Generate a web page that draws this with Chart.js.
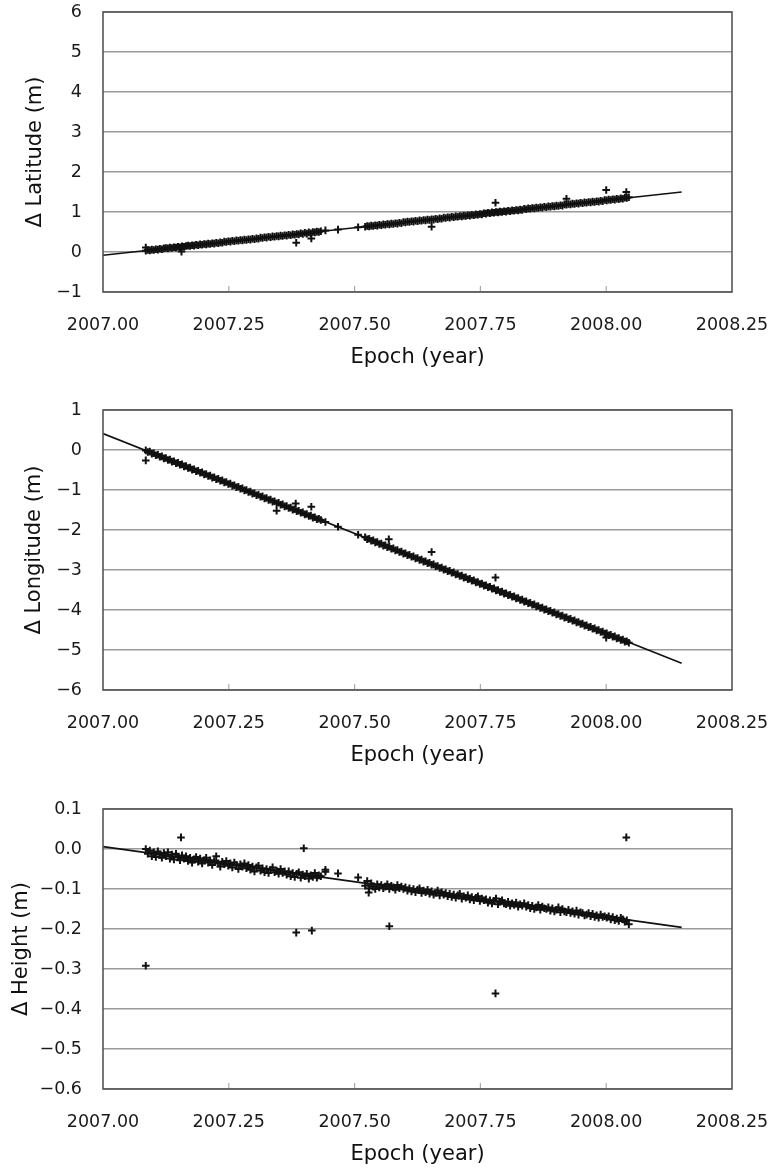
<!DOCTYPE html>
<html>
<head>
<meta charset="utf-8">
<script src="https://cdn.jsdelivr.net/npm/chart.js@4.4.1/dist/chart.umd.min.js"></script>
<style>
  body { margin: 0; background: #fff; }
  .bloc { position: absolute; left: 0; width: 769px; height: 372px; }
</style>
</head>
<body>
<div class="bloc" style="top:0px"><canvas id="graphique-lat"></canvas></div>
<div class="bloc" style="top:398px"><canvas id="graphique-lon"></canvas></div>
<div class="bloc" style="top:797px"><canvas id="graphique-hgt"></canvas></div>
<script>
// Epochs of the daily solutions (year)
const epochs = [
  2007.085, 2007.089, 2007.093, 2007.097, 2007.101, 2007.105, 2007.109, 2007.113, 2007.117, 2007.121,
  2007.125, 2007.129, 2007.133, 2007.137, 2007.141, 2007.145, 2007.149, 2007.153, 2007.157, 2007.161,
  2007.165, 2007.169, 2007.173, 2007.177, 2007.181, 2007.185, 2007.189, 2007.193, 2007.197, 2007.201,
  2007.205, 2007.209, 2007.213, 2007.217, 2007.221, 2007.225, 2007.229, 2007.233, 2007.237, 2007.241,
  2007.245, 2007.249, 2007.253, 2007.257, 2007.261, 2007.265, 2007.269, 2007.273, 2007.277, 2007.281,
  2007.285, 2007.289, 2007.293, 2007.297, 2007.301, 2007.305, 2007.309, 2007.313, 2007.317, 2007.321,
  2007.325, 2007.329, 2007.333, 2007.337, 2007.341, 2007.345, 2007.349, 2007.353, 2007.357, 2007.361,
  2007.365, 2007.369, 2007.373, 2007.377, 2007.381, 2007.385, 2007.389, 2007.393, 2007.397, 2007.401,
  2007.405, 2007.409, 2007.413, 2007.417, 2007.421, 2007.425, 2007.429, 2007.433,
  2007.442, 2007.467, 2007.507,
  2007.521, 2007.525, 2007.529, 2007.533, 2007.537, 2007.541, 2007.545, 2007.549, 2007.553, 2007.557,
  2007.561, 2007.565, 2007.569, 2007.573, 2007.577, 2007.581, 2007.585, 2007.589, 2007.593, 2007.597,
  2007.601, 2007.605, 2007.609, 2007.613, 2007.617, 2007.621, 2007.625, 2007.629, 2007.633, 2007.637,
  2007.641, 2007.645, 2007.649, 2007.653, 2007.657, 2007.661, 2007.665, 2007.669, 2007.673, 2007.677,
  2007.681, 2007.685, 2007.689, 2007.693, 2007.697, 2007.701, 2007.705, 2007.709, 2007.713, 2007.717,
  2007.721, 2007.725, 2007.729, 2007.733, 2007.737, 2007.741, 2007.745, 2007.749, 2007.753, 2007.757,
  2007.761, 2007.765, 2007.769, 2007.773, 2007.777, 2007.781, 2007.785, 2007.789, 2007.793, 2007.797,
  2007.801, 2007.805, 2007.809, 2007.813, 2007.817, 2007.821, 2007.825, 2007.829, 2007.833, 2007.837,
  2007.841, 2007.845, 2007.849, 2007.853, 2007.857, 2007.861, 2007.865, 2007.869, 2007.873, 2007.877,
  2007.881, 2007.885, 2007.889, 2007.893, 2007.897, 2007.901, 2007.905, 2007.909, 2007.913, 2007.917,
  2007.921, 2007.925, 2007.929, 2007.933, 2007.937, 2007.941, 2007.945, 2007.949, 2007.953, 2007.957,
  2007.961, 2007.965, 2007.969, 2007.973, 2007.977, 2007.981, 2007.985, 2007.989, 2007.993, 2007.997,
  2008.001, 2008.005, 2008.009, 2008.013, 2008.017, 2008.021, 2008.025, 2008.029, 2008.033, 2008.037,
  2008.041, 2008.045
];

// Delta latitude (m)
const latitude = [
  0.03, 0.05, 0.04, 0.06, 0.05, 0.07, 0.06, 0.08, 0.07, 0.09,
  0.10, 0.09, 0.11, 0.10, 0.12, 0.11, 0.13, 0.12, 0.14, 0.13,
  0.15, 0.16, 0.15, 0.17, 0.16, 0.18, 0.17, 0.19, 0.18, 0.20,
  0.19, 0.21, 0.20, 0.22, 0.21, 0.23, 0.22, 0.24, 0.23, 0.26,
  0.25, 0.27, 0.26, 0.28, 0.27, 0.29, 0.28, 0.30, 0.29, 0.31,
  0.30, 0.32, 0.31, 0.33, 0.32, 0.34, 0.33, 0.36, 0.35, 0.37,
  0.36, 0.38, 0.37, 0.39, 0.38, 0.40, 0.39, 0.41, 0.40, 0.42,
  0.41, 0.43, 0.42, 0.44, 0.43, 0.45, 0.44, 0.47, 0.45, 0.48,
  0.46, 0.49, 0.47, 0.50, 0.49, 0.51, 0.50, 0.52,
  0.54, 0.56, 0.62,
  0.63, 0.65, 0.64, 0.66, 0.65, 0.67, 0.66, 0.68, 0.67, 0.69,
  0.68, 0.70, 0.69, 0.71, 0.70, 0.72, 0.71, 0.73, 0.72, 0.75,
  0.74, 0.76, 0.75, 0.77, 0.76, 0.78, 0.77, 0.79, 0.78, 0.80,
  0.79, 0.81, 0.80, 0.82, 0.81, 0.83, 0.82, 0.84, 0.83, 0.86,
  0.85, 0.87, 0.86, 0.88, 0.87, 0.89, 0.88, 0.90, 0.89, 0.91,
  0.90, 0.92, 0.91, 0.93, 0.92, 0.94, 0.93, 0.95, 0.94, 0.97,
  0.96, 0.98, 0.97, 0.99, 0.98, 1.00, 0.99, 1.01, 1.00, 1.02,
  1.01, 1.03, 1.02, 1.04, 1.03, 1.05, 1.04, 1.06, 1.05, 1.08,
  1.07, 1.09, 1.08, 1.10, 1.09, 1.11, 1.10, 1.12, 1.11, 1.13,
  1.12, 1.14, 1.13, 1.15, 1.14, 1.16, 1.15, 1.17, 1.16, 1.19,
  1.18, 1.20, 1.19, 1.21, 1.20, 1.22, 1.21, 1.23, 1.22, 1.24,
  1.23, 1.25, 1.24, 1.26, 1.25, 1.27, 1.26, 1.28, 1.27, 1.30,
  1.29, 1.31, 1.30, 1.32, 1.31, 1.33, 1.32, 1.34, 1.33, 1.36,
  1.35, 1.37
];

// Delta longitude (m)
const longitude = [
  -0.01, -0.05, -0.04, -0.09, -0.08, -0.13, -0.12, -0.17, -0.16, -0.21,
  -0.20, -0.25, -0.24, -0.29, -0.28, -0.33, -0.32, -0.37, -0.36, -0.41,
  -0.40, -0.45, -0.44, -0.49, -0.48, -0.53, -0.52, -0.57, -0.56, -0.61,
  -0.60, -0.65, -0.64, -0.69, -0.68, -0.73, -0.72, -0.77, -0.76, -0.81,
  -0.80, -0.85, -0.84, -0.89, -0.88, -0.93, -0.92, -0.97, -0.96, -1.01,
  -1.00, -1.05, -1.04, -1.09, -1.08, -1.13, -1.12, -1.17, -1.16, -1.21,
  -1.20, -1.25, -1.24, -1.29, -1.28, -1.33, -1.32, -1.37, -1.36, -1.41,
  -1.40, -1.45, -1.44, -1.49, -1.48, -1.53, -1.52, -1.57, -1.56, -1.61,
  -1.60, -1.65, -1.64, -1.69, -1.68, -1.73, -1.72, -1.75,
  -1.80, -1.92, -2.12,
  -2.18, -2.23, -2.22, -2.27, -2.26, -2.31, -2.30, -2.35, -2.34, -2.39,
  -2.38, -2.43, -2.42, -2.47, -2.46, -2.51, -2.50, -2.55, -2.54, -2.59,
  -2.58, -2.63, -2.62, -2.67, -2.66, -2.71, -2.70, -2.75, -2.74, -2.79,
  -2.78, -2.83, -2.82, -2.87, -2.86, -2.91, -2.90, -2.95, -2.94, -2.99,
  -2.98, -3.03, -3.02, -3.07, -3.06, -3.11, -3.10, -3.15, -3.14, -3.19,
  -3.18, -3.23, -3.22, -3.27, -3.26, -3.31, -3.30, -3.35, -3.34, -3.39,
  -3.38, -3.43, -3.42, -3.47, -3.46, -3.51, -3.50, -3.55, -3.54, -3.59,
  -3.58, -3.63, -3.62, -3.67, -3.66, -3.71, -3.70, -3.75, -3.74, -3.79,
  -3.78, -3.83, -3.82, -3.87, -3.86, -3.91, -3.90, -3.95, -3.94, -3.99,
  -3.98, -4.03, -4.02, -4.07, -4.06, -4.11, -4.10, -4.15, -4.14, -4.19,
  -4.18, -4.23, -4.22, -4.27, -4.26, -4.31, -4.30, -4.35, -4.34, -4.39,
  -4.38, -4.43, -4.42, -4.47, -4.46, -4.51, -4.50, -4.55, -4.54, -4.59,
  -4.58, -4.63, -4.62, -4.67, -4.66, -4.71, -4.70, -4.75, -4.74, -4.79,
  -4.78, -4.82
];

// Delta height (m)
const height = [
  0.000, -0.012, -0.004, -0.018, -0.008, -0.020, -0.006, -0.014, -0.022, -0.010,
  -0.018, -0.008, -0.024, -0.014, -0.026, -0.012, -0.020, -0.028, -0.016, -0.024,
  -0.018, -0.030, -0.022, -0.034, -0.026, -0.020, -0.032, -0.024, -0.036, -0.028,
  -0.022, -0.034, -0.028, -0.040, -0.030, -0.018, -0.036, -0.044, -0.032, -0.038,
  -0.030, -0.042, -0.036, -0.046, -0.034, -0.040, -0.050, -0.038, -0.044, -0.036,
  -0.048, -0.040, -0.052, -0.044, -0.056, -0.046, -0.042, -0.054, -0.048, -0.058,
  -0.050, -0.060, -0.052, -0.046, -0.058, -0.054, -0.062, -0.050, -0.060, -0.056,
  -0.064, -0.056, -0.068, -0.060, -0.070, -0.062, -0.058, -0.072, -0.064, -0.068,
  -0.062, -0.074, -0.066, -0.070, -0.060, -0.072, -0.066, -0.068,
  -0.057, -0.061, -0.071,
  -0.092, -0.080, -0.098, -0.086, -0.094, -0.100, -0.088, -0.096, -0.090, -0.098,
  -0.094, -0.088, -0.100, -0.092, -0.096, -0.102, -0.090, -0.098, -0.094, -0.100,
  -0.096, -0.104, -0.098, -0.106, -0.100, -0.108, -0.102, -0.098, -0.110, -0.104,
  -0.108, -0.102, -0.112, -0.106, -0.114, -0.110, -0.104, -0.116, -0.108, -0.114,
  -0.110, -0.118, -0.112, -0.120, -0.114, -0.122, -0.116, -0.112, -0.124, -0.118,
  -0.122, -0.116, -0.126, -0.120, -0.128, -0.122, -0.118, -0.130, -0.124, -0.128,
  -0.126, -0.134, -0.128, -0.136, -0.130, -0.124, -0.138, -0.132, -0.128, -0.136,
  -0.138, -0.132, -0.142, -0.136, -0.140, -0.134, -0.144, -0.138, -0.142, -0.136,
  -0.144, -0.140, -0.148, -0.142, -0.150, -0.146, -0.140, -0.152, -0.144, -0.148,
  -0.150, -0.146, -0.154, -0.148, -0.156, -0.152, -0.146, -0.158, -0.150, -0.156,
  -0.158, -0.152, -0.160, -0.156, -0.162, -0.154, -0.164, -0.158, -0.160, -0.166,
  -0.164, -0.160, -0.168, -0.162, -0.170, -0.166, -0.172, -0.164, -0.170, -0.168,
  -0.172, -0.168, -0.176, -0.170, -0.178, -0.174, -0.180, -0.172, -0.176, -0.182,
  -0.178, -0.188
];

// Isolated solutions off the main trend
const latOutEpochs = [2007.085, 2007.156, 2007.384, 2007.414, 2007.653, 2007.780, 2007.921, 2008.000, 2008.040];
const latOut = [0.11, 0.01, 0.23, 0.34, 0.63, 1.23, 1.33, 1.55, 1.50];
const lonOutEpochs = [2007.085, 2007.345, 2007.383, 2007.414, 2007.568, 2007.653, 2007.780, 2008.000];
const lonOut = [-0.26, -1.52, -1.34, -1.42, -2.23, -2.55, -3.19, -4.69];
const hgtOutEpochs = [2007.085, 2007.155, 2007.384, 2007.399, 2007.415, 2007.442, 2007.528, 2007.569, 2007.780, 2008.040];
const hgtOut = [-0.292, 0.029, -0.209, 0.002, -0.204, -0.052, -0.109, -0.193, -0.361, 0.029];

// Linear trend (end points)
const fitEpochs = [2007.00, 2008.15];
const latFit = [-0.08, 1.50];
const lonFit = [0.41, -5.33];
const hgtFit = [0.006, -0.196];

// Tick labels
const xTicks = [2007.00, 2007.25, 2007.50, 2007.75, 2008.00, 2008.25];
const latTicks = [-1, 0, 1, 2, 3, 4, 5, 6];
const lonTicks = [-6, -5, -4, -3, -2, -1, 0, 1];
const hgtTicks = [-0.6, -0.5, -0.4, -0.3, -0.2, -0.1, 0.0, 0.1];

//--------------------------------------------------
// layout of the plot area inside each canvas
const PLOT_LEFT = 103;
const PLOT_RIGHT = 37;
const PLOT_TOP = 12;
const PLOT_BOTTOM = 292;
const CANVAS_H = 372;

Chart.defaults.font.family = "'DejaVu Sans', sans-serif";
Chart.defaults.color = "#1a1a1a";

function paires(xs, ys) {
  return xs.map((x, i) => ({x: x, y: ys[i]}));
}

function moins(txt) {
  return txt.replace("-", "\u2212");
}

// frame all round the plot + small inner ticks on the x axis
const cadre = {
  id: "cadre",
  afterDatasetsDraw(chart) {
    const ctx = chart.ctx;
    const a = chart.chartArea;
    const sx = chart.scales.x;
    ctx.save();
    ctx.strokeStyle = "#aaaaaa";
    ctx.lineWidth = 1.2;
    for (let i = 1; i < xTicks.length - 1; i++) {
      const px = sx.getPixelForValue(xTicks[i]);
      ctx.beginPath();
      ctx.moveTo(px, a.bottom);
      ctx.lineTo(px, a.bottom - 6);
      ctx.stroke();
    }
    ctx.strokeStyle = "#555555";
    ctx.lineWidth = 1.6;
    ctx.strokeRect(a.left, a.top, a.right - a.left, a.bottom - a.top);
    ctx.restore();
  }
};

function graphique(id, valeurs, outEp, outVal, fit, yTicks, titre, decimales, titrePad) {
  const points = {
    data: paires(epochs, valeurs).concat(paires(outEp, outVal)),
    pointStyle: "cross",
    pointRadius: 3.8,
    pointBorderWidth: 2,
    borderColor: "#111",
    showLine: false,
  };
  const tendance = {
    data: paires(fitEpochs, fit),
    showLine: true,
    borderColor: "#111",
    borderWidth: 1.6,
    pointRadius: 0,
  };
  const config = {
    type: "scatter",
    data: {datasets: [points, tendance]},
    options: {
      responsive: true,
      maintainAspectRatio: false,
      animation: false,
      layout: {padding: {left: 0, right: PLOT_RIGHT, top: PLOT_TOP, bottom: 0}},
      plugins: {legend: {display: false}, tooltip: {enabled: false}},
      scales: {
        x: {
          type: "linear",
          min: xTicks[0],
          max: xTicks[xTicks.length - 1],
          afterBuildTicks: s => { s.ticks = xTicks.map(v => ({value: v})); },
          afterFit: s => {
            s.height = CANVAS_H - PLOT_BOTTOM;
            s.paddingLeft = 0;
            s.paddingRight = 0;
          },
          grid: {display: false},
          border: {display: false},
          ticks: {
            padding: 15,
            font: {size: 17.5},
            color: "#1a1a1a",
            maxRotation: 0,
            autoSkip: false,
            callback: v => Number(v).toFixed(2),
          },
          title: {
            display: true,
            text: "Epoch (year)",
            font: {size: 21},
            color: "#111",
            padding: {top: 0, bottom: 2},
          },
        },
        y: {
          type: "linear",
          min: yTicks[0],
          max: yTicks[yTicks.length - 1],
          afterBuildTicks: s => { s.ticks = yTicks.map(v => ({value: v})); },
          afterFit: s => {
            s.width = PLOT_LEFT;
            s.paddingTop = 0;
            s.paddingBottom = 0;
          },
          grid: {color: "#9a9a9a", lineWidth: 1.4, drawTicks: false},
          border: {display: false},
          ticks: {
            padding: 21,
            font: {size: 17.5},
            color: "#1a1a1a",
            callback: v => {
              const n = Math.abs(v) < 1e-9 ? 0 : v;
              return moins(Number(n).toFixed(decimales));
            },
          },
          title: {
            display: true,
            text: titre,
            font: {size: 21},
            color: "#111",
            padding: {top: titrePad, bottom: 0},
          },
        },
      },
    },
    plugins: [cadre],
  };
  new Chart(document.querySelector(id), config);
}

graphique("#graphique-lat", latitude, latOutEpochs, latOut, latFit, latTicks, "\u0394 Latitude (m)", 0, 23);
graphique("#graphique-lon", longitude, lonOutEpochs, lonOut, lonFit, lonTicks, "\u0394 Longitude (m)", 0, 22);
graphique("#graphique-hgt", height, hgtOutEpochs, hgtOut, hgtFit, hgtTicks, "\u0394 Height (m)", 1, 9);
</script>
</body>
</html>
